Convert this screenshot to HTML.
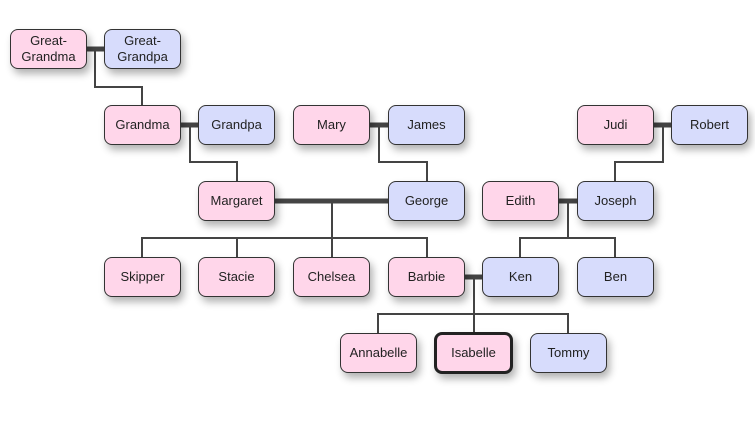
<!DOCTYPE html><html><head><style>
body{margin:0;width:755px;height:429px;background:#fff;position:relative;font-family:"Liberation Sans",sans-serif;overflow:hidden}
.b{position:absolute;width:75px;height:38px;border:1px solid #333;border-radius:8px;display:flex;align-items:center;justify-content:center;text-align:center;font-size:13px;color:#222;box-shadow:3px 5px 8px rgba(0,0,0,.3);line-height:16px}
.p{background:#ffd6ea}.u{background:#d7dcfc}
svg{position:absolute;left:0;top:0}
</style></head><body>
<svg width="755" height="429"><g stroke="#444" fill="none" stroke-width="2">
<path d="M95 49V87H142V105M190 125V162H237V181M379 125V162H427V181M663 125V162H615V181M332 201V238M142 257V238H427V257M237 238V257M332 238V257M568 201V238M520 257V238H615V257M474 277V314M378 333V314H568V333M474 314V333"/>
</g><g stroke="#444" stroke-width="5">
<path d="M87 49H104M181 125H198M370 125H388M654 125H671M275 201H388M559 201H577M465 277H482"/></g></svg>
<div class="b p" style="left:10px;top:29px">Great-<br>Grandma</div>
<div class="b u" style="left:104px;top:29px">Great-<br>Grandpa</div>
<div class="b p" style="left:104px;top:105px">Grandma</div>
<div class="b u" style="left:198px;top:105px">Grandpa</div>
<div class="b p" style="left:293px;top:105px">Mary</div>
<div class="b u" style="left:388px;top:105px">James</div>
<div class="b p" style="left:577px;top:105px">Judi</div>
<div class="b u" style="left:671px;top:105px">Robert</div>
<div class="b p" style="left:198px;top:181px">Margaret</div>
<div class="b u" style="left:388px;top:181px">George</div>
<div class="b p" style="left:482px;top:181px">Edith</div>
<div class="b u" style="left:577px;top:181px">Joseph</div>
<div class="b p" style="left:104px;top:257px">Skipper</div>
<div class="b p" style="left:198px;top:257px">Stacie</div>
<div class="b p" style="left:293px;top:257px">Chelsea</div>
<div class="b p" style="left:388px;top:257px">Barbie</div>
<div class="b u" style="left:482px;top:257px">Ken</div>
<div class="b u" style="left:577px;top:257px">Ben</div>
<div class="b p" style="left:340px;top:333px">Annabelle</div>
<div class="b p" style="left:434px;top:332px;width:73px;height:36px;border:3px solid #222">Isabelle</div>
<div class="b u" style="left:530px;top:333px">Tommy</div>
</body></html>
